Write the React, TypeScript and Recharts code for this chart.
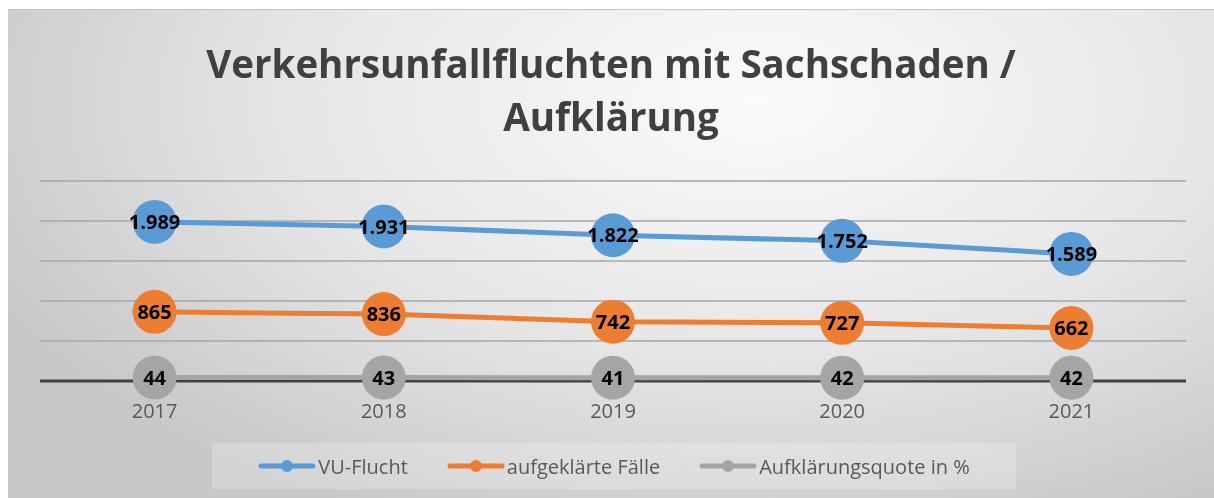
import { LineChart, Line, XAxis, YAxis, CartesianGrid, LabelList } from 'recharts'

const years = ['2017', '2018', '2019', '2020', '2021']
const vuFlucht = [1989, 1931, 1822, 1752, 1589]
const aufgeklaert = [865, 836, 742, 727, 662]
const quote = [44, 43, 41, 42, 42]
const yTicks = [0, 500, 1000, 1500, 2000, 2500]

const series = [
  { key: 'vu', name: 'VU-Flucht', color: '#5b9bd5' },
  { key: 'auf', name: 'aufgeklärte Fälle', color: '#ed7d31' },
  { key: 'quote', name: 'Aufklärungsquote in %', color: '#a5a5a5' }
]

const data = years.map((year, i) => ({
  year,
  vu: vuFlucht[i],
  auf: aufgeklaert[i],
  quote: quote[i]
}))

const font = '"Open Sans", sans-serif'

// 1989 -> 1.989
const fmt = (v: any) => String(v).replace(/\B(?=(\d{3})+(?!\d))/g, '.')

// grid line at 0 doubles as the dark axis line, drawn under the series
const gridLine = (p: any) => {
  const isAxis = Math.abs(p.y1 - (p.y + p.height)) < 0.5
  return (
    <line
      key={p.key}
      x1={p.x1}
      y1={p.y1}
      x2={p.x2}
      y2={p.y2}
      stroke={isAxis ? '#404040' : '#a6a6a6'}
      strokeWidth={isAxis ? 3 : 1.5}
    />
  )
}

const App = () => {
  return (
    <div
      style={{
        position: 'fixed',
        left: 8,
        top: 9,
        width: 1206,
        height: 489,
        fontFamily: font,
        borderTop: '1px solid #c4c4c4',
        background:
          'radial-gradient(ellipse 70% 95% at 62% 18%, #fbfbfb 0%, #e6e6e6 55%, #c8c8c8 100%)'
      }}
    >
      <div
        style={{
          position: 'absolute',
          left: 0,
          top: 27,
          width: 1206,
          textAlign: 'center',
          fontSize: 38.5,
          fontWeight: 700,
          lineHeight: '53px',
          color: '#404040'
        }}
      >
        Verkehrsunfallfluchten mit Sachschaden /<br />
        Aufklärung
      </div>
      <LineChart
        width={1206}
        height={489}
        data={data}
        margin={{ top: 171, right: 28, left: 32, bottom: 88 }}
        style={{ position: 'absolute', left: 0, top: 0 }}
      >
        <CartesianGrid vertical={false} horizontal={gridLine} />
        <XAxis
          dataKey="year"
          height={30}
          padding={{ left: 114.6, right: 114.6 }}
          tickLine={false}
          tickMargin={17}
          axisLine={false}
          tick={{ fill: '#595959', fontSize: 20, fontFamily: font }}
        />
        <YAxis hide domain={[0, 2500]} ticks={yTicks} />
        {series.map((s) => (
          <Line
            key={s.key}
            dataKey={s.key}
            name={s.name}
            type="linear"
            stroke={s.color}
            strokeWidth={5}
            dot={{ r: 22, fill: s.color, stroke: s.color, strokeWidth: 0 }}
            activeDot={false}
            isAnimationActive={false}
          >
            <LabelList
              dataKey={s.key}
              position="center"
              formatter={fmt}
              fill="#000"
              fontSize={20}
              fontWeight={700}
              fontFamily={font}
            />
          </Line>
        ))}
      </LineChart>
      <div
        style={{
          position: 'absolute',
          left: 204,
          top: 433,
          width: 804,
          height: 46,
          background: 'rgba(255,255,255,0.22)',
          display: 'flex',
          alignItems: 'center',
          justifyContent: 'center',
          gap: 39,
          fontSize: 20,
          color: '#595959'
        }}
      >
        {series.map((s) => (
          <div key={s.key} style={{ display: 'flex', alignItems: 'center', gap: 2 }}>
            <svg width={58} height={14}>
              <line x1={3} y1={7} x2={55} y2={7} stroke={s.color} strokeWidth={5} strokeLinecap="round" />
              <circle cx={29} cy={7} r={6} fill={s.color} />
            </svg>
            <span>{s.name}</span>
          </div>
        ))}
      </div>
    </div>
  )
}

export default App
